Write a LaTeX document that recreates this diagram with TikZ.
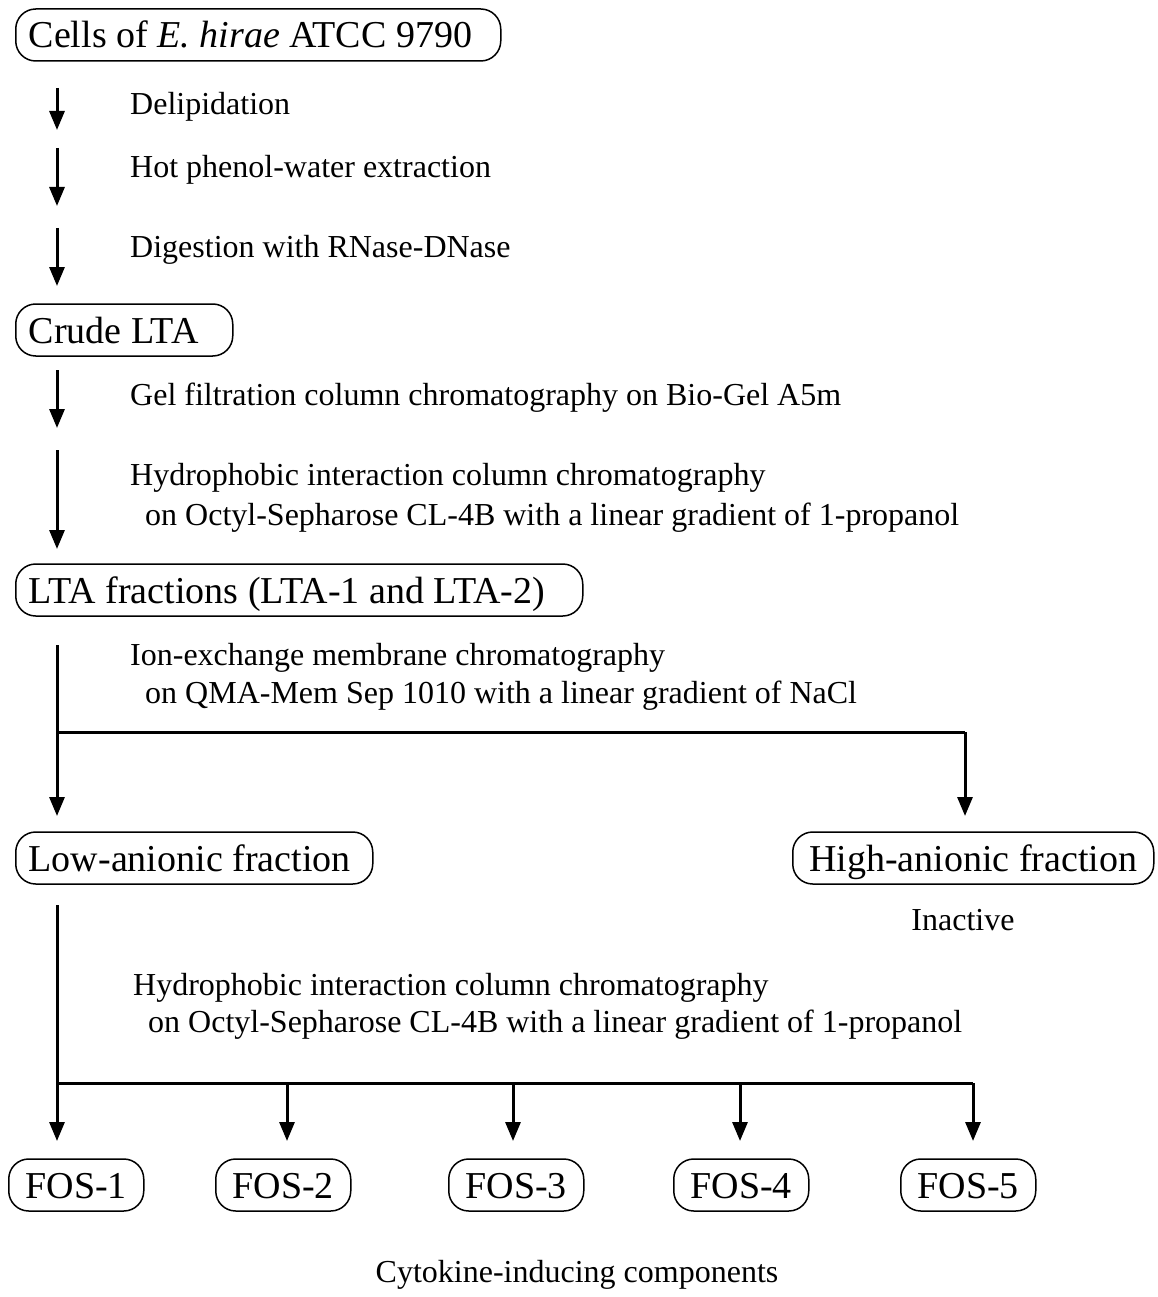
\documentclass[tikz,border=0pt]{standalone}
\usepackage{fontspec}
\setmainfont{Liberation Serif}
\usetikzlibrary{arrows.meta}
\newcommand{\boxfont}{\fontsize{38}{42}\selectfont}
\newcommand{\labfont}{\fontsize{32}{36}\selectfont}
\tikzset{
  procbox/.style={draw, rounded corners=20pt, line width=1.5pt, minimum height=52pt,
    inner xsep=13pt, inner ysep=0pt, text height=30pt, text depth=4pt,
    anchor=west, font=\boxfont},
  lab/.style={anchor=base west, inner sep=0pt, font=\labfont},
  flow/.style={line width=3pt, -{Triangle[length=19pt,width=15pt]}},
  flowline/.style={line width=3pt}
}
\newcommand{\lbox}[2]{\makebox[#1][l]{#2}}
\newcommand{\cbox}[2]{\makebox[#1][c]{#2}}
\begin{document}
\begin{tikzpicture}[x=1pt,y=-1pt]
\useasboundingbox (0,0) rectangle (1157,1297);
% boxes
\node[procbox] (cells) at (15,35) {\lbox{459pt}{Cells of \textit{E. hirae} ATCC 9790}};
\node[procbox] (crude) at (15,330) {\lbox{191pt}{Crude LTA}};
\node[procbox] (ltafr) at (15,590) {\lbox{541pt}{LTA fractions (LTA-1 and LTA-2)}};
\node[procbox] (low) at (15,858) {\lbox{331pt}{Low-anionic fraction}};
\node[procbox] (high) at (792,858) {\cbox{335pt}{High-anionic fraction}};
\node[procbox] (f1) at (8,1185) {\cbox{109pt}{FOS-1}};
\node[procbox] (f2) at (215,1185) {\cbox{109pt}{FOS-2}};
\node[procbox] (f3) at (448,1185) {\cbox{109pt}{FOS-3}};
\node[procbox] (f4) at (673,1185) {\cbox{109pt}{FOS-4}};
\node[procbox] (f5) at (900,1185) {\cbox{109pt}{FOS-5}};
% labels
\node[lab] (l1) at (130,115) {Delipidation};
\node[lab] (l2) at (130,178) {Hot phenol-water extraction};
\node[lab] (l3) at (130,258) {Digestion with RNase-DNase};
\node[lab] (l4) at (130,405) {Gel filtration column chromatography on Bio-Gel A5m};
\node[lab] (l5) at (130,485) {Hydrophobic interaction column chromatography};
\node[lab] (l5b) at (145,525) {on Octyl-Sepharose CL-4B with a linear gradient of 1-propanol};
\node[lab] (l6) at (130,665) {Ion-exchange membrane chromatography};
\node[lab] (l6b) at (145,703) {on QMA-Mem Sep 1010 with a linear gradient of NaCl};
\node[lab, anchor=base] (inact) at (963,930) {Inactive};
\node[lab] (l7) at (133,995) {Hydrophobic interaction column chromatography};
\node[lab] (l7b) at (148,1032) {on Octyl-Sepharose CL-4B with a linear gradient of 1-propanol};
\node[lab, anchor=base] (cyto) at (577,1282) {Cytokine-inducing components};
% coordinates for arrows
\coordinate (a1s) at (57,88);  \coordinate (a1e) at (57,130);
\coordinate (a2s) at (57,148); \coordinate (a2e) at (57,206);
\coordinate (a3s) at (57,228); \coordinate (a3e) at (57,286);
\coordinate (a4s) at (57,370); \coordinate (a4e) at (57,428);
\coordinate (a5s) at (57,450); \coordinate (a5e) at (57,549);
\coordinate (b1s) at (57,645); \coordinate (b1j) at (57,732);
\coordinate (b2j) at (965,732);
\coordinate (b1e) at (57,816); \coordinate (b2e) at (965,816);
\coordinate (c1s) at (57,905); \coordinate (c1j) at (57,1083);
\coordinate (c2j) at (287,1083); \coordinate (c3j) at (513,1083);
\coordinate (c4j) at (740,1083); \coordinate (c5j) at (973,1083);
\coordinate (c1e) at (57,1141); \coordinate (c2e) at (287,1141);
\coordinate (c3e) at (513,1141); \coordinate (c4e) at (740,1141);
\coordinate (c5e) at (973,1141);
% arrows
\draw[flow] (a1s) -- (a1e);
\draw[flow] (a2s) -- (a2e);
\draw[flow] (a3s) -- (a3e);
\draw[flow] (a4s) -- (a4e);
\draw[flow] (a5s) -- (a5e);
\draw[flowline] (b1s) -- (b1j) -- (b2j);
\draw[flow] (b1j) -- (b1e);
\draw[flow] (b2j) -- (b2e);
\draw[flowline] (c1s) -- (c1j) -- (c5j);
\draw[flow] (c1j) -- (c1e);
\draw[flow] (c2j) -- (c2e);
\draw[flow] (c3j) -- (c3e);
\draw[flow] (c4j) -- (c4e);
\draw[flow] (c5j) -- (c5e);
\end{tikzpicture}
\end{document}
